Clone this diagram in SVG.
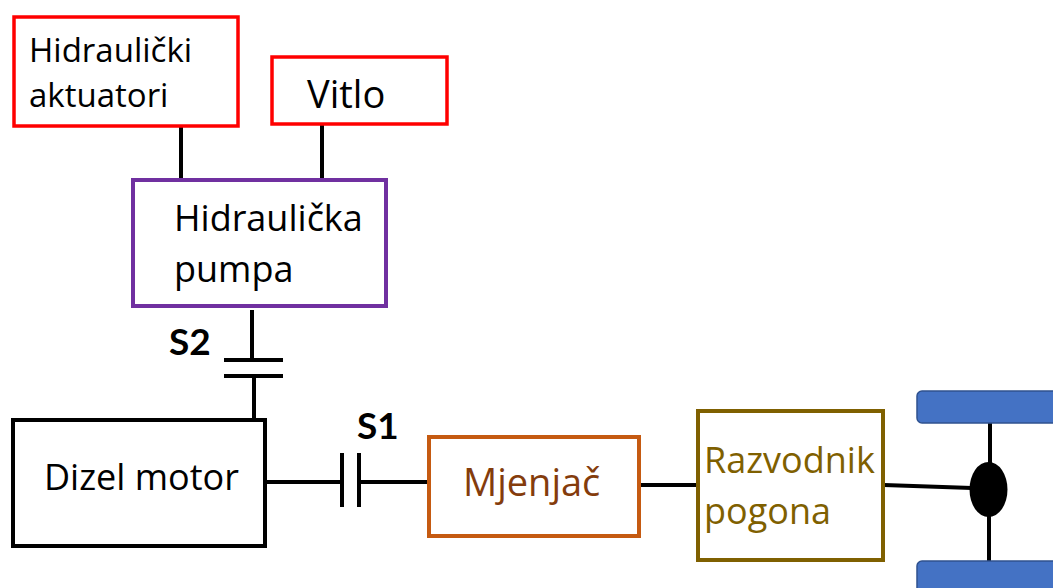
<svg xmlns="http://www.w3.org/2000/svg" width="1053" height="588" viewBox="0 0 1053 588">
<style>
text{font-family:"Open Sans","Noto Sans",sans-serif;font-size:36px;fill:#000}
.b{fill:#fff;stroke-width:4}
.r{fill:#fff;stroke:#f00;stroke-width:3.500}
.l{stroke:#000;stroke-width:4;fill:none}
.w{fill:#4472c4;stroke:#2f528f;stroke-width:1.500}
.t{font-size:33px}
.s{font-family:"Lato","Open Sans",sans-serif;font-weight:700;font-size:37px}
</style>
<rect width="1053" height="588" fill="#fff"/>
<g id="connectors">
<path class="l" d="M181 127V180M322 125V180M252 310V360M254 376V419M224 360H283M224 376H283M266 482H342M342 453V507M359 453V507M359 482H428M640 485H697M884 485L972 488M990 423V463M989 515V561"/>
</g>
<g id="aktuatori"><rect class="r" x="14" y="17" width="224" height="109"/><text class="t" x="29" y="62">Hidraulički</text><text class="t" x="29" y="107">aktuatori</text></g>
<g id="vitlo"><rect class="r" x="272" y="57" width="175" height="67"/><text x="307" y="108" style="font-size:38px">Vitlo</text></g>
<g id="pumpa"><rect class="b" x="133" y="180" width="253" height="126" stroke="#7030a0"/><text x="174" y="231">Hidraulička</text><text x="174" y="282">pumpa</text></g>
<g id="s2"><text class="s" x="169" y="355">S2</text></g>
<g id="s1"><text class="s" x="357" y="439">S1</text></g>
<g id="motor"><rect class="b" x="13" y="420" width="252" height="126" stroke="#000"/><text x="44" y="490">Dizel motor</text></g>
<g id="mjenjac"><rect class="b" x="429" y="437" width="210" height="99" stroke="#c55a11"/><text x="463" y="496" style="fill:#843c0c;font-size:38px">Mjenjač</text></g>
<g id="razvodnik"><rect class="b" x="698" y="411" width="185" height="149" stroke="#7f6000"/><text x="704" y="473" style="fill:#7f6000">Razvodnik</text><text x="704" y="524" style="fill:#7f6000">pogona</text></g>
<g id="kotaci"><rect class="w" x="917" y="391" width="150" height="32" rx="5"/><rect class="w" x="917" y="561" width="150" height="40" rx="5"/><ellipse cx="988.500" cy="489.500" rx="19" ry="27.500"/></g>
</svg>
